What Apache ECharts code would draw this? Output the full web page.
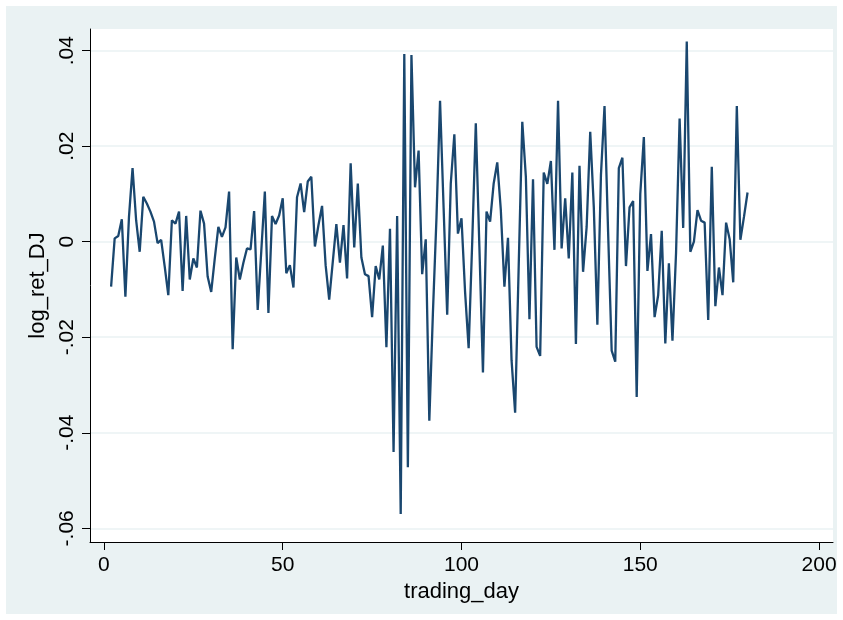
<!DOCTYPE html>
<html>
<head>
<meta charset="utf-8">
<script src="https://cdn.jsdelivr.net/npm/echarts@6/dist/echarts.min.js"></script>
<style>
  html, body { margin: 0; padding: 0; background: #ffffff; width: 843px; height: 620px; overflow: hidden; }
  #chart { position: absolute; left: 6px; top: 6px; width: 831px; height: 608px; background: #EAF2F3; }
</style>
</head>
<body>
<div id="chart"></div>
<script>
const tradingDay = [
  2,3,4,5,6,7,8,9,10,11,12,13,14,15,16,17,18,19,20,21,22,23,24,25,26,27,28,29,30,
  31,32,33,34,35,36,37,38,39,40,41,42,43,44,45,46,47,48,49,50,51,52,53,54,55,56,57,58,59,60,
  61,62,63,64,65,66,67,68,69,70,71,72,73,74,75,76,77,78,79,80,81,82,83,84,85,86,87,88,89,90,
  91,92,93,94,95,96,97,98,99,100,101,102,103,104,105,106,107,108,109,110,111,112,113,114,115,116,117,118,119,120,
  121,122,123,124,125,126,127,128,129,130,131,132,133,134,135,136,137,138,139,140,141,142,143,144,145,146,147,148,149,150,
  151,152,153,154,155,156,157,158,159,160,161,162,163,164,165,166,167,168,169,170,171,172,173,174,175,176,177,178,179,180
];
const logRetDJ = [
  -0.0094,0.0007,0.0012,0.0047,-0.0115,0.0052,0.0154,0.0045,-0.0021,0.0094,0.0080,0.0063,0.0042,-0.0003,0.0004,-0.0052,-0.0112,0.0045,0.0038,0.0063,-0.0103,0.0054,-0.0079,-0.0035,-0.0054,0.0065,0.0038,-0.0073,-0.0105,
  -0.0035,0.0031,0.0010,0.0030,0.0105,-0.0225,-0.0033,-0.0079,-0.0044,-0.0014,-0.0016,0.0064,-0.0143,-0.0020,0.0105,-0.0149,0.0054,0.0037,0.0055,0.0091,-0.0066,-0.0049,-0.0096,0.0093,0.0122,0.0062,0.0126,0.0136,-0.0010,0.0035,
  0.0075,-0.0049,-0.0121,-0.0042,0.0037,-0.0044,0.0035,-0.0077,0.0164,-0.0012,0.0122,-0.0033,-0.0068,-0.0072,-0.0158,-0.0051,-0.0079,-0.0008,-0.0221,0.0027,-0.0440,0.0054,-0.0570,0.0393,-0.0472,0.0391,0.0114,0.0191,-0.0068,0.0005,
  -0.0375,-0.0150,0.0050,0.0295,0.0070,-0.0153,0.0122,0.0225,0.0017,0.0049,-0.0105,-0.0223,0.0000,0.0248,-0.0010,-0.0274,0.0063,0.0042,0.0122,0.0166,0.0066,-0.0094,0.0008,-0.0248,-0.0358,-0.0050,0.0251,0.0136,-0.0162,0.0131,
  -0.0220,-0.0239,0.0145,0.0121,0.0169,-0.0017,0.0295,-0.0014,0.0091,-0.0035,0.0145,-0.0214,0.0159,-0.0063,0.0031,0.0230,0.0073,-0.0174,0.0140,0.0284,0.0021,-0.0228,-0.0251,0.0154,0.0176,-0.0051,0.0072,0.0085,-0.0325,0.0100,
  0.0219,-0.0061,0.0016,-0.0158,-0.0112,0.0023,-0.0213,-0.0045,-0.0207,-0.0024,0.0258,0.0029,0.0419,-0.0021,0.0000,0.0066,0.0044,0.0040,-0.0164,0.0157,-0.0135,-0.0054,-0.0112,0.0040,0.0005,-0.0085,0.0284,0.0004,0.0052,0.0103
];
const xTicks = [0, 50, 100, 150, 200];
const yTicks = [-0.06, -0.04, -0.02, 0, 0.02, 0.04];
const yTickLabels = ['-.06', '-.04', '-.02', '0', '.02', '.04'];

const seriesData = tradingDay.map((d, i) => [d, logRetDJ[i]]);
const font = 'Liberation Sans, Arial, Helvetica, sans-serif';

const chart = echarts.init(document.getElementById('chart'), null, { renderer: 'canvas', width: 831, height: 608 });
chart.setOption({
  animation: false,
  backgroundColor: '#EAF2F3',
  grid: {
    left: 84, top: 23, right: 4, bottom: 72,
    containLabel: false,
    outerBoundsMode: 'none',
    show: true, backgroundColor: '#ffffff', borderWidth: 0
  },
  xAxis: {
    type: 'value',
    min: -3.9, max: 203.9,
    name: 'trading_day',
    nameLocation: 'middle',
    nameGap: 30,
    nameTextStyle: { fontFamily: font, fontSize: 22, color: '#000' },
    axisLine: { show: true, onZero: false, lineStyle: { color: '#000', width: 1 } },
    axisTick: { show: true, length: 8, customValues: xTicks, lineStyle: { color: '#000', width: 1 } },
    axisLabel: { customValues: xTicks, margin: 13, fontFamily: font, fontSize: 21, color: '#000' },
    splitLine: { show: false }
  },
  yAxis: {
    type: 'value',
    min: -0.06287, max: 0.04454,
    name: 'log_ret_DJ',
    nameLocation: 'middle',
    nameGap: 29,
    nameRotate: 90,
    nameTextStyle: { fontFamily: font, fontSize: 22, color: '#000' },
    axisLine: { show: true, onZero: false, lineStyle: { color: '#000', width: 1 } },
    axisTick: { show: true, length: 8, customValues: yTicks, lineStyle: { color: '#000', width: 1 } },
    axisLabel: {
      customValues: yTicks, rotate: 90, margin: 12,
      fontFamily: font, fontSize: 21, color: '#000',
      formatter: function (v) {
        for (let i = 0; i < yTicks.length; i++) {
          if (Math.abs(v - yTicks[i]) < 1e-9) return yTickLabels[i];
        }
        return '';
      }
    },
    splitLine: { show: true, lineStyle: { color: '#EAF2F3', width: 1.5 } }
  },
  series: [{
    type: 'line',
    data: seriesData,
    showSymbol: false,
    symbol: 'none',
    lineStyle: { color: '#1A476F', width: 2.3 },
    silent: true
  }]
});
</script>
</body>
</html>
